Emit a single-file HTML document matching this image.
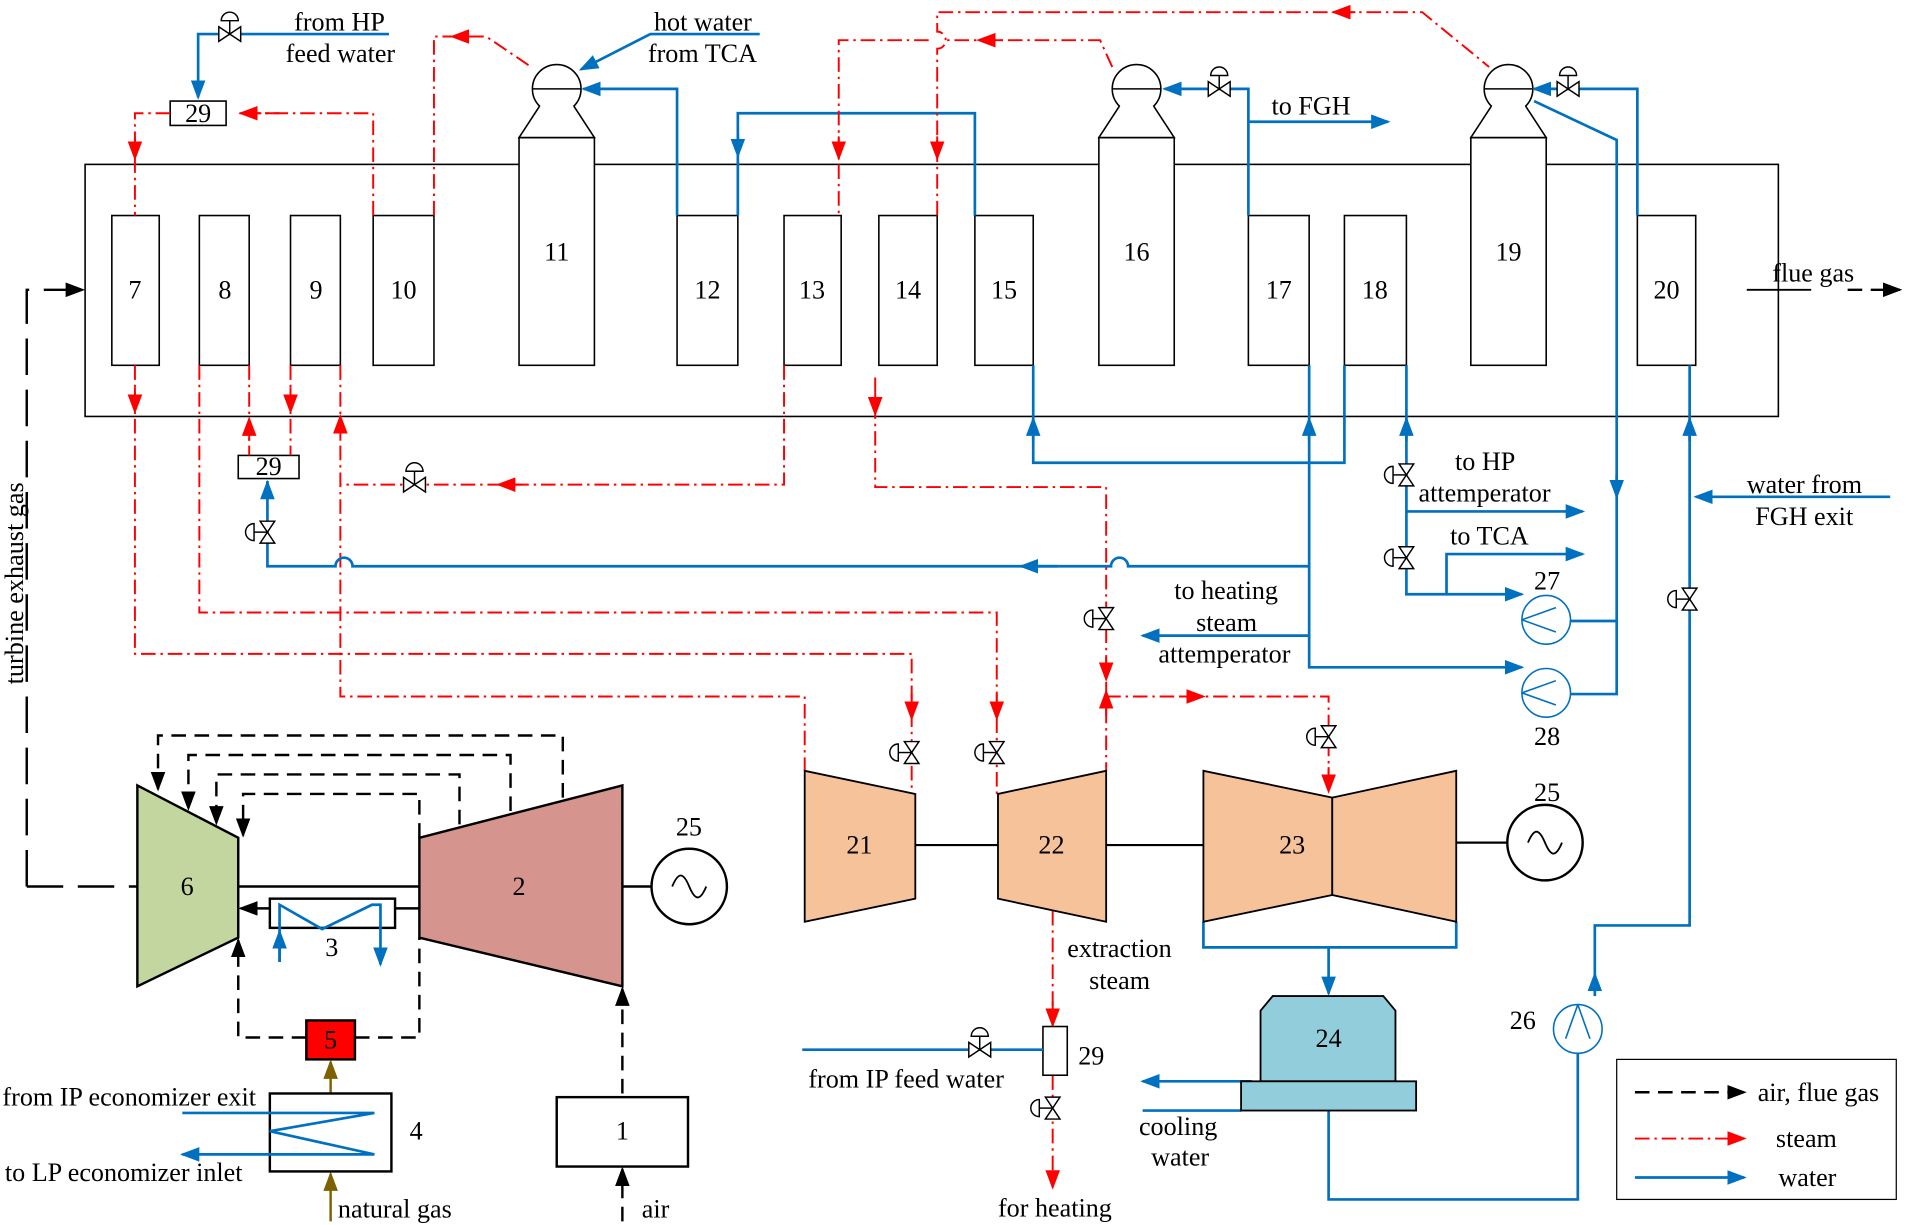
<!DOCTYPE html>
<html><head><meta charset="utf-8"><style>
html,body{margin:0;padding:0;background:#fff;}
svg{display:block;}
text{font-family:"Liberation Serif",serif;font-size:21.5px;fill:#000;}
.b{stroke:#0070C0;stroke-width:2.2;fill:none;}
.r{stroke:#FF0000;stroke-width:1.6;fill:none;stroke-dasharray:12,4,2,4;}
.k{stroke:#000;stroke-width:2;fill:none;stroke-dasharray:12,7;}
.s{stroke:#000;stroke-width:1.3;fill:#fff;}
</style></head><body>
<svg width="1906" height="1225" viewBox="0 0 1568 1006" preserveAspectRatio="none" xmlns="http://www.w3.org/2000/svg">
<defs>
<marker id="ab" markerWidth="16" markerHeight="12" refX="14" refY="6" orient="auto" markerUnits="userSpaceOnUse"><path d="M0,0 L16,6 L0,12 Z" fill="#0070C0"/></marker>
<marker id="ar" markerWidth="16" markerHeight="12" refX="14" refY="6" orient="auto" markerUnits="userSpaceOnUse"><path d="M0,0 L16,6 L0,12 Z" fill="#FF0000"/></marker>
<marker id="ak" markerWidth="16" markerHeight="12" refX="14" refY="6" orient="auto" markerUnits="userSpaceOnUse"><path d="M0,0 L16,6 L0,12 Z" fill="#000"/></marker>
<marker id="an" markerWidth="16" markerHeight="12" refX="14" refY="6" orient="auto" markerUnits="userSpaceOnUse"><path d="M0,0 L16,6 L0,12 Z" fill="#7F6000"/></marker>
<g id="v"><line x1="0" y1="0" x2="0" y2="-11" stroke="#000" stroke-width="1.2"/><path d="M-7,-11 A7,7 0 0 1 7,-11 Z" fill="#fff" stroke="#000" stroke-width="1.2"/><path d="M-9,-6 L-9,6 L9,-6 L9,6 Z" fill="#fff" stroke="#000" stroke-width="1.2"/></g>
<g id="dr"><circle cx="0" cy="0" r="20" fill="#fff" stroke="#000" stroke-width="1.3"/><line x1="-20" y1="0" x2="20" y2="0" stroke="#000" stroke-width="1.3"/><path d="M-14,14 L-31,40 L31,40 L14,14" fill="#fff" stroke="#000" stroke-width="1.3"/></g>
<g id="pm"><circle cx="0" cy="0" r="20" fill="#fff" stroke="#0070C0" stroke-width="1.3"/><path d="M-20,0 L8,-10 M-20,0 L8,10" stroke="#0070C0" stroke-width="1.3" fill="none"/></g>
</defs>

<!-- HRSG -->
<rect x="70" y="135" width="1393" height="207" class="s"/>
<g class="s">
<rect x="92" y="177" width="39" height="123"/><rect x="164" y="177" width="41" height="123"/><rect x="239" y="177" width="41" height="123"/><rect x="307" y="177" width="50" height="123"/>
<rect x="427" y="113" width="62" height="187"/><rect x="557" y="177" width="50" height="123"/><rect x="645" y="177" width="47" height="123"/><rect x="723" y="177" width="48" height="123"/><rect x="802" y="177" width="48" height="123"/>
<rect x="904" y="113" width="62" height="187"/><rect x="1027" y="177" width="50" height="123"/><rect x="1106" y="177" width="51" height="123"/><rect x="1210" y="113" width="62" height="187"/><rect x="1347" y="177" width="48" height="123"/>
</g>
<use href="#dr" x="458" y="73"/><use href="#dr" x="935" y="73"/><use href="#dr" x="1241" y="73"/>
<g text-anchor="middle"><text x="111" y="245">7</text><text x="185" y="245">8</text><text x="260" y="245">9</text><text x="332" y="245">10</text><text x="458" y="214">11</text><text x="582" y="245">12</text><text x="668" y="245">13</text><text x="747" y="245">14</text><text x="826" y="245">15</text><text x="935" y="214">16</text><text x="1052" y="245">17</text><text x="1131" y="245">18</text><text x="1241" y="214">19</text><text x="1371" y="245">20</text></g>

<!-- boxes 29 -->
<rect x="140" y="83" width="46" height="20" class="s"/><text x="163" y="100" text-anchor="middle">29</text>
<rect x="196" y="374" width="50" height="19" class="s"/><text x="221" y="390" text-anchor="middle">29</text>

<!-- top blue -->
<path class="b" d="M320,28 L163,28 L163,80" marker-end="url(#ab)"/><use href="#v" x="189" y="28"/>
<text x="242" y="25">from HP</text><text x="235" y="51">feed water</text>
<path class="b" d="M625,28 L535,28 L478,57" marker-end="url(#ab)"/>
<text x="538" y="25">hot water</text><text x="533" y="51">from TCA</text>
<path class="b" d="M557,177 L557,73 L480,73" marker-end="url(#ab)"/>
<path class="b" d="M802,177 L802,93 L607,93 L607,177"/><path class="b" d="M607,110 L607,128" marker-end="url(#ab)"/>
<path class="b" d="M1027,177 L1027,73 L958,73" marker-end="url(#ab)"/><use href="#v" x="1003" y="73"/>
<path class="b" d="M1027,100 L1142,100" marker-end="url(#ab)"/><text x="1046" y="94">to FGH</text>
<path class="b" d="M1347,177 L1347,73 L1262,73" marker-end="url(#ab)"/><use href="#v" x="1290" y="73"/>
<path class="b" d="M1262,83 L1330,115 L1330,570 L1292,570 M1330,510 L1292,510"/><path class="b" d="M1330,390 L1330,408" marker-end="url(#ab)"/>
<use href="#pm" x="1272" y="509"/><use href="#pm" x="1272" y="569"/>
<text x="1262" y="484">27</text><text x="1262" y="612">28</text>

<!-- top red -->
<path class="r" d="M307,177 L307,93 L196,93"/><path class="r" d="M230,93 L198,93" marker-end="url(#ar)"/>
<path class="r" d="M140,93 L111,93 L111,177"/><path class="r" d="M111,112 L111,130" marker-end="url(#ar)"/>
<path class="r" d="M357,177 L357,30 L400,30 L437,55"/><path class="r" d="M390,30 L372,30" marker-end="url(#ar)"/>
<path class="r" d="M915,55 L905,33 L778,33 M764,33 L690,33 L690,177"/><path class="r" d="M825,33 L805,33" marker-end="url(#ar)"/><path class="r" d="M690,112 L690,130" marker-end="url(#ar)"/>
<path class="r" d="M771,177 L771,40 A7,7 0 0 0 771,26 L771,10 L1170,10 L1225,55"/><path class="r" d="M1115,10 L1097,10" marker-end="url(#ar)"/><path class="r" d="M771,112 L771,130" marker-end="url(#ar)"/>

<!-- lower red -->
<path class="r" d="M111,300 L111,537 L750,537 L750,652"/><path class="r" d="M111,318 L111,338" marker-end="url(#ar)"/><path class="r" d="M750,570 L750,590" marker-end="url(#ar)"/><use href="#v" transform="translate(750,618) rotate(-90)"/>
<path class="r" d="M164,300 L164,503 L820,503 L820,652"/><path class="r" d="M820,570 L820,590" marker-end="url(#ar)"/><use href="#v" transform="translate(820,618) rotate(-90)"/>
<path class="r" d="M205,300 L205,374"/><path class="r" d="M205,362 L205,344" marker-end="url(#ar)"/>
<path class="r" d="M239,300 L239,374"/><path class="r" d="M239,318 L239,338" marker-end="url(#ar)"/>
<path class="r" d="M280,300 L280,572 L662,572 L662,633"/><path class="r" d="M280,360 L280,342" marker-end="url(#ar)"/>
<path class="r" d="M645,300 L645,398 L280,398"/><path class="r" d="M430,398 L410,398" marker-end="url(#ar)"/><use href="#v" x="341" y="398"/>
<path class="r" d="M720,310 L720,400 L910,400 L910,633"/><path class="r" d="M720,322 L720,340" marker-end="url(#ar)"/><path class="r" d="M910,540 L910,558" marker-end="url(#ar)"/><use href="#v" transform="translate(910,508) rotate(-90)"/>
<path class="r" d="M910,588 L910,568" marker-end="url(#ar)"/>
<path class="r" d="M910,572 L1093,572 L1093,652"/><path class="r" d="M970,572 L990,572" marker-end="url(#ar)"/><path class="r" d="M1093,630 L1093,650" marker-end="url(#ar)"/><use href="#v" transform="translate(1093,605) rotate(-90)"/>
<path class="r" d="M866,748 L866,843"/><path class="r" d="M866,822 L866,842" marker-end="url(#ar)"/>
<path class="r" d="M866,883 L866,975" marker-end="url(#ar)"/><use href="#v" transform="translate(866,910) rotate(-90)"/>
<rect x="858" y="843" width="20" height="40" class="s"/><text x="887" y="874">29</text>
<path class="b" d="M660,862 L858,862"/><use href="#v" x="806" y="862"/>
<text x="665" y="893">from IP feed water</text>
<text x="878" y="786">extraction</text><text x="896" y="812">steam</text>
<text x="821" y="999">for heating</text>

<!-- lower blue -->
<path class="b" d="M850,300 L850,380 L1106,380 L1106,300"/><path class="b" d="M850,362 L850,344" marker-end="url(#ab)"/>
<path class="b" d="M1077,300 L1077,548 L1250,548"/><path class="b" d="M1240,548 L1252,548" marker-end="url(#ab)"/><path class="b" d="M1077,362 L1077,344" marker-end="url(#ab)"/>
<path class="b" d="M1077,465 L928,465 A7,7 0 0 0 914,465 L290,465 A7,7 0 0 0 276,465 L220,465 L220,395"/><path class="b" d="M870,465 L840,465" marker-end="url(#ab)"/><path class="b" d="M220,410 L220,396" marker-end="url(#ab)"/><use href="#v" transform="translate(220,437) rotate(-90)"/>
<path class="b" d="M1077,522 L940,522" marker-end="url(#ab)"/>
<text x="966" y="492">to heating</text><text x="984" y="518">steam</text><text x="953" y="544">attemperator</text>
<path class="b" d="M1157,300 L1157,488 L1250,488"/><path class="b" d="M1240,488 L1252,488" marker-end="url(#ab)"/><path class="b" d="M1157,362 L1157,344" marker-end="url(#ab)"/>
<use href="#v" transform="translate(1157,390) rotate(-90)"/><use href="#v" transform="translate(1157,458) rotate(-90)"/>
<path class="b" d="M1157,420 L1302,420" marker-end="url(#ab)"/><text x="1197" y="386">to HP</text><text x="1167" y="412">attemperator</text>
<path class="b" d="M1190,488 L1190,455 L1302,455" marker-end="url(#ab)"/><text x="1193" y="447">to TCA</text>
<path class="b" d="M1390,300 L1390,760 L1312,760 L1312,818"/><path class="b" d="M1390,362 L1390,344" marker-end="url(#ab)"/><path class="b" d="M1312,815 L1312,800" marker-end="url(#ab)"/><use href="#v" transform="translate(1390,492) rotate(-90)"/>
<path class="b" d="M1555,408 L1395,408" marker-end="url(#ab)"/><text x="1437" y="405">water from</text><text x="1444" y="431">FGH exit</text>
<path class="b" d="M1298,865 L1298,985 L1093,985 L1093,912"/>
<g transform="translate(1298,845) rotate(90)"><use href="#pm"/></g><text x="1242" y="845">26</text>
<path class="b" d="M990,757 L990,778 L1198,778 L1198,757 M1093,778 L1093,816" marker-end="url(#ab)"/>
<path class="b" d="M1030,888 L940,888" marker-end="url(#ab)"/><path class="b" d="M940,912 L1021,912"/>
<text x="937" y="932">cooling</text><text x="947" y="957">water</text>

<!-- condenser -->
<path d="M1047,818 L1138,818 L1148,830 L1148,888 L1037,888 L1037,830 Z" fill="#92CDDC" stroke="#000" stroke-width="1.5"/>
<rect x="1021" y="888" width="144" height="24" fill="#92CDDC" stroke="#000" stroke-width="1.5"/>
<text x="1093" y="860" text-anchor="middle">24</text>

<!-- steam turbines -->
<g fill="#F5C29A" stroke="#000" stroke-width="1.5">
<path d="M662,633 L753,652 L753,738 L662,757 Z"/><path d="M821,652 L910,633 L910,757 L821,738 Z"/>
<path d="M990,633 L1096,655 L1096,735 L990,757 Z"/><path d="M1096,655 L1198,633 L1198,757 L1096,735 Z"/>
</g>
<path d="M753,694 L821,694 M910,694 L990,694 M1198,692 L1240,692" stroke="#000" stroke-width="1.8"/>
<text x="707" y="701" text-anchor="middle">21</text><text x="865" y="701" text-anchor="middle">22</text><text x="1063" y="701" text-anchor="middle">23</text>
<circle cx="1271" cy="692" r="31" fill="#fff" stroke="#000" stroke-width="2"/><path d="M1257,692 C1262,680 1266,680 1271,692 C1276,704 1280,704 1285,692" fill="none" stroke="#000" stroke-width="1.5"/><text x="1262" y="658">25</text>

<!-- gas turbine -->
<path d="M22,728 L113,728" class="k" style="stroke-dasharray:30,12"/>
<path d="M22,728 L22,238 L68,238" class="k" style="stroke-dasharray:30,12" marker-end="url(#ak)"/>
<text transform="translate(19,562) rotate(-90)">turbine exhaust gas</text>
<path class="k" d="M463,655 L463,604 L130,604 L130,648" marker-end="url(#ak)"/>
<path class="k" d="M420,666 L420,620 L155,620 L155,664" marker-end="url(#ak)"/>
<path class="k" d="M378,677 L378,636 L178,636 L178,676" marker-end="url(#ak)"/>
<path class="k" d="M345,688 L345,652 L200,652 L200,686" marker-end="url(#ak)"/>
<path d="M113,645 L196,688 L196,770 L113,810 Z" fill="#C4D6A0" stroke="#000" stroke-width="2"/>
<path d="M345,688 L512,645 L512,810 L345,770 Z" fill="#D6948E" stroke="#000" stroke-width="2"/>
<text x="154" y="735" text-anchor="middle">6</text><text x="427" y="735" text-anchor="middle">2</text>
<path d="M196,728 L345,728 M512,728 L537,728" stroke="#000" stroke-width="2"/>
<circle cx="567" cy="728" r="31" fill="#fff" stroke="#000" stroke-width="2"/><path d="M553,728 C558,716 562,716 567,728 C572,740 576,740 581,728" fill="none" stroke="#000" stroke-width="1.5"/><text x="556" y="686">25</text>
<rect x="222" y="738" width="103" height="24" fill="#fff" stroke="#000" stroke-width="2"/>
<path d="M325,746 L345,746" stroke="#000" stroke-width="2"/><path d="M222,746 L198,746" stroke="#000" stroke-width="2" marker-end="url(#ak)"/>
<path class="b" d="M230,790 L230,743 L265,763 L306,743 L313,743 L313,792" marker-end="url(#ab)"/><path class="b" d="M230,790 L230,765" marker-end="url(#ab)"/>
<text x="273" y="785" text-anchor="middle">3</text>
<path class="k" d="M252,852 L196,852 L196,772" marker-end="url(#ak)"/>
<path class="k" d="M292,852 L345,852 L345,770"/>
<rect x="252" y="838" width="40" height="32" fill="#FF0000" stroke="#000" stroke-width="2"/><text x="272" y="861" text-anchor="middle">5</text>
<path d="M272,898 L272,872" stroke="#7F6000" stroke-width="2" marker-end="url(#an)"/>
<path d="M272,1003 L272,964" stroke="#7F6000" stroke-width="2" marker-end="url(#an)"/>
<rect x="222" y="898" width="100" height="64" fill="#fff" stroke="#000" stroke-width="2"/>
<path class="b" d="M150,914 L308,914 L222,929 L308,948 L150,948" marker-end="url(#ab)"/>
<text x="2" y="908">from IP economizer exit</text><text x="4" y="970">to LP economizer inlet</text>
<text x="278" y="1000">natural gas</text><text x="337" y="936">4</text>
<rect x="458" y="901" width="108" height="57" fill="#fff" stroke="#000" stroke-width="2"/><text x="512" y="936" text-anchor="middle">1</text>
<path class="k" d="M512,898 L512,812" marker-end="url(#ak)"/>
<path class="k" d="M512,1003 L512,960" marker-end="url(#ak)"/><text x="528" y="1000">air</text>

<!-- flue gas -->
<path d="M1437,238 L1490,238" stroke="#000" stroke-width="1.5"/><path class="k" d="M1520,238 L1563,238" marker-end="url(#ak)"/>
<text x="1458" y="231">flue gas</text>

<!-- legend -->
<rect x="1330" y="870" width="230" height="115" fill="#fff" stroke="#000" stroke-width="1"/>
<path class="k" d="M1345,897 L1435,897" marker-end="url(#ak)"/><text x="1446" y="904">air, flue gas</text>
<path class="r" d="M1345,935 L1435,935" marker-end="url(#ar)"/><text x="1461" y="942">steam</text>
<path class="b" d="M1345,967 L1435,967" marker-end="url(#ab)"/><text x="1463" y="974">water</text>
</svg>
</body></html>
